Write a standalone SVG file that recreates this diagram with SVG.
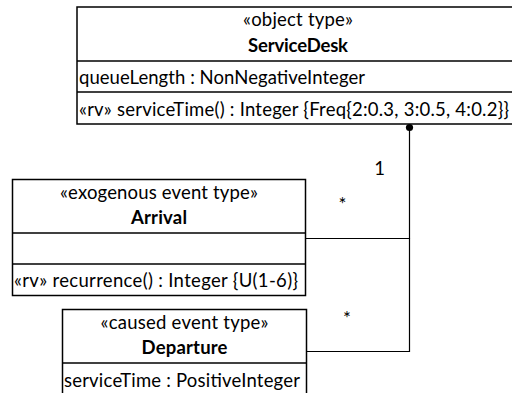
<svg xmlns="http://www.w3.org/2000/svg" width="512" height="393" viewBox="0 0 512 393">
  <style>
    .box { fill: #ffffff; stroke: #000000; stroke-width: 1.5; }
    .sep { stroke: #000000; stroke-width: 1.5; }
    .conn { fill: none; stroke: #000000; stroke-width: 1.2; }
    text { font-family: Lato, "Open Sans", sans-serif; font-size: 18.5px; fill: #000000; }
    .c { text-anchor: middle; }
    .b { font-weight: bold; }
  </style>
  <rect width="512" height="393" fill="#ffffff"/>

  <!-- associations: dot at ServiceDesk, branches to both event types -->
  <g id="connectors">
    <path class="conn" d="M409.5 127.5 V238.5 H305.5"/>
    <path class="conn" d="M409.5 238.5 V351.5 H306.5"/>
    <circle cx="409.5" cy="127.5" r="3.6" fill="#000000"/>
    <text x="379.5" y="175" class="c">1</text>
    <text x="342.5" y="211" class="c">*</text>
    <text x="347" y="325" class="c">*</text>
  </g>

  <g id="ServiceDesk">
    <rect class="box" x="77" y="7" width="442" height="117"/>
    <line class="sep" x1="77" y1="61" x2="519" y2="61"/>
    <line class="sep" x1="77" y1="92" x2="519" y2="92"/>
    <text x="298" y="26" class="c" textLength="110">«object type»</text>
    <text x="298" y="51.5" class="c b" textLength="100">ServiceDesk</text>
    <text x="79" y="84" textLength="286">queueLength : NonNegativeInteger</text>
    <text x="79" y="115.5" textLength="430">«rv» serviceTime() : Integer {Freq{2:0.3, 3:0.5, 4:0.2}}</text>
  </g>

  <g id="Arrival">
    <rect class="box" x="12.5" y="179.5" width="293" height="116"/>
    <line class="sep" x1="12.5" y1="233" x2="305.5" y2="233"/>
    <line class="sep" x1="12.5" y1="264" x2="305.5" y2="264"/>
    <text x="159" y="198.5" class="c" textLength="198">«exogenous event type»</text>
    <text x="159" y="223.5" class="c b" textLength="56">Arrival</text>
    <text x="14" y="287" textLength="284">«rv» recurrence() : Integer {U(1-6)}</text>
  </g>

  <g id="Departure">
    <rect class="box" x="62.5" y="309.5" width="244" height="86"/>
    <line class="sep" x1="62.5" y1="363" x2="306.5" y2="363"/>
    <text x="184.5" y="329" class="c" textLength="168">«caused event type»</text>
    <text x="184.5" y="354" class="c b" textLength="86">Departure</text>
    <text x="64" y="386.5" textLength="236">serviceTime : PositiveInteger</text>
  </g>
</svg>
